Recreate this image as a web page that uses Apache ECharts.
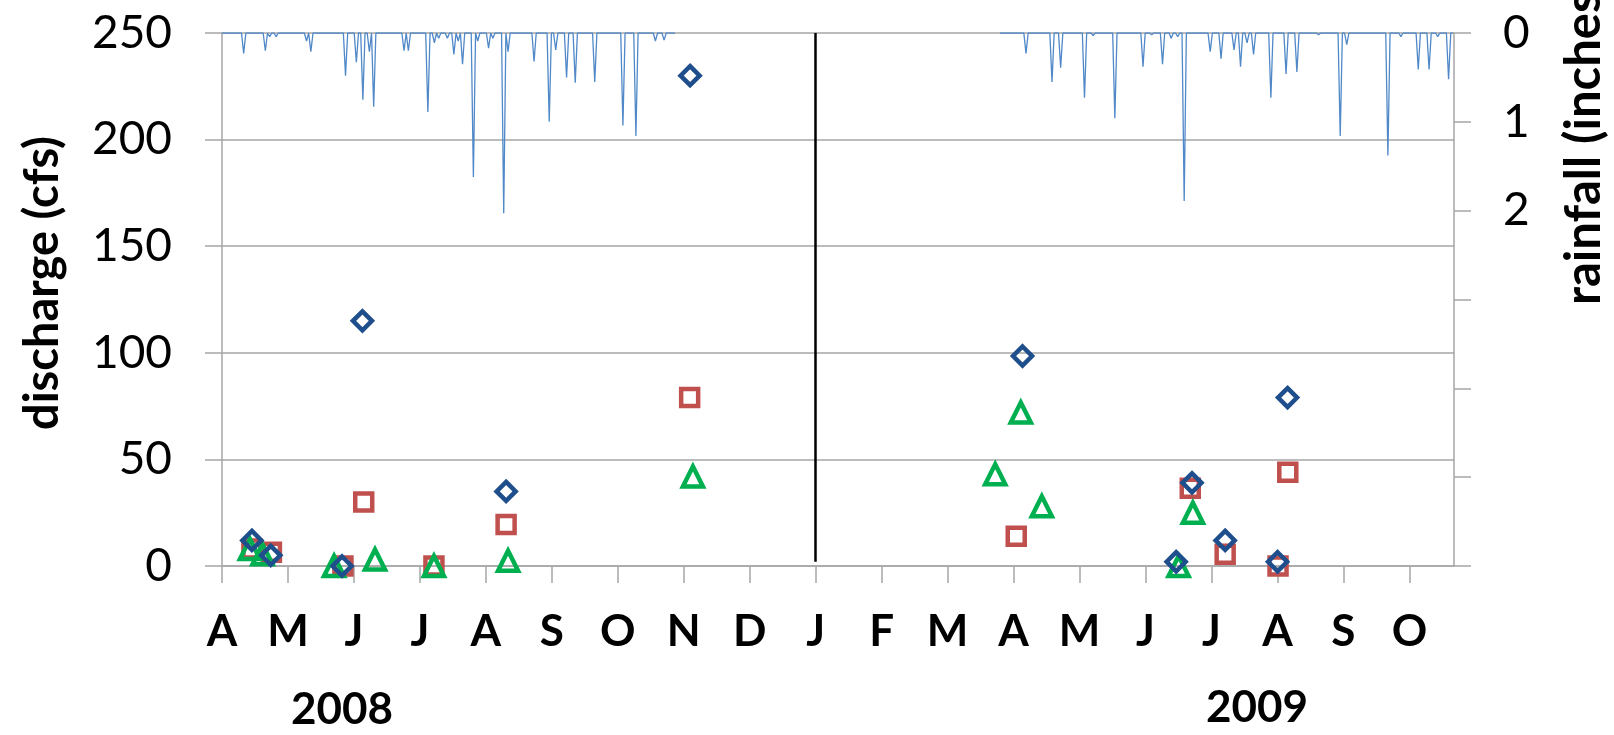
<!DOCTYPE html>
<html>
<head>
<meta charset="utf-8">
<script src="https://cdn.jsdelivr.net/npm/echarts@6/dist/echarts.min.js"></script>
<style>html,body{margin:0;padding:0;background:#fff}#c{width:1614px;height:735px}</style>
</head>
<body>
<div id="c"></div>
<script>
// ---- data ----
const DPM = 30.44; // days per month on the evenly spaced month axis
const monthLabels = ['A','M','J','J','A','S','O','N','D','J','F','M','A','M','J','J','A','S','O'];
const yearLabels = ['2008','2009'];
const xMaxDays = 568.5;            // axis end, days after 1 Apr 2008
const separatorMonth = 9;          // January 2009
const rightTickLabels = ['0','1','2','','','',''];

// daily rainfall (inches), days after 1 Apr 2008; days not listed are 0
const rainPeriod2008 = [0, 209];
const rain2008Day = [10,20,22,25,39,41,57,62,65,68,70,84,86,95,98,100,104,107,109,111,116,118,123,125,130,132,144,151,154,159,163,172,185,191,200,204];
const rain2008In  = [0.23,0.20,0.04,0.04,0.09,0.21,0.48,0.33,0.75,0.21,0.83,0.20,0.20,0.89,0.11,0.06,0.06,0.24,0.09,0.35,1.62,0.09,0.17,0.06,2.03,0.21,0.32,1.00,0.19,0.50,0.56,0.55,1.04,1.16,0.09,0.08];
const rainPeriod2009 = [359, 568];
const rain2009Day = [371,383,387,398,402,412,425,429,434,438,441,444,456,461,467,470,473,476,484,491,496,506,516,519,538,544,552,557,561,566];
const rain2009In  = [0.23,0.55,0.39,0.73,0.03,0.96,0.38,0.02,0.35,0.06,0.04,1.89,0.21,0.29,0.19,0.38,0.11,0.24,0.73,0.46,0.44,0.02,1.16,0.13,1.38,0.04,0.41,0.41,0.04,0.52];

// discharge samples (cfs), days after 1 Apr 2008
const diamondDay = [13.8,22.5,55.4,64.8,131.1,216,369.4,440.3,447.6,462.9,487.1,491.7];
const diamondCfs = [12,5,0,115,35,230,98.5,2,39,12,2,79];
const squareDay  = [13.8,22.8,55.8,65.4,97.8,131.1,215.8,366.5,446.8,462.9,487.3,491.8];
const squareCfs  = [8,6.5,0,30,0,19.5,79,14,36.5,5.5,0,44];
const triangleDay = [12.9,18.7,51.7,70.6,97.8,132,217.3,356.8,368.6,378.3,441.4,448];
const triangleCfs = [8,5.5,0,3,0,2.5,42,43,72,28,0,25];

// ---- build ----
function daily(period, days, vals) {
  const out = [];
  for (let d = period[0]; d <= period[1]; d++) {
    const i = days.indexOf(d);
    out.push([d / DPM, i >= 0 ? vals[i] : 0]);
  }
  return out;
}
function pts(days, vals) { return days.map((d, i) => [d / DPM, vals[i]]); }

const GRAY = '#A6A6A6';
const FONT = 'Lato';
const monthIdx = monthLabels.map((_, i) => i);

const chart = echarts.init(document.getElementById('c'), null, {renderer: 'canvas'});
const rainStyle = {color: '#5088C8', width: 1.3};
const hollow = (c) => ({color: 'rgba(255,255,255,0)', borderColor: c, borderWidth: 4.5, opacity: 1});

chart.setOption({
  animation: false,
  backgroundColor: '#fff',
  grid: {left: 222, right: 160, top: 33, bottom: 169},
  xAxis: {
    type: 'value', min: 0, max: xMaxDays / DPM, interval: 1,
    axisLine: {show: true, lineStyle: {color: GRAY, width: 1.5}},
    axisTick: {show: true, length: 17, customValues: monthIdx, lineStyle: {color: GRAY, width: 1.5}},
    axisLabel: {customValues: monthIdx, formatter: v => monthLabels[Math.round(v)] || '',
      fontSize: 44, fontWeight: 'bold', fontFamily: FONT, color: '#000', margin: 44},
    splitLine: {show: false}
  },
  yAxis: [{
    type: 'value', position: 'left', min: 0, max: 250, interval: 50,
    axisLine: {show: true, lineStyle: {color: GRAY, width: 1.5}},
    axisTick: {show: true, length: 17, lineStyle: {color: GRAY, width: 1.5}},
    axisLabel: {fontSize: 46, fontFamily: FONT, color: '#000', margin: 50},
    splitLine: {show: true, lineStyle: {color: GRAY, width: 1.5}}
  }, {
    type: 'value', position: 'right', inverse: true, min: 0, max: 6, interval: 1,
    axisLine: {show: true, lineStyle: {color: GRAY, width: 1.5}},
    axisTick: {show: true, length: 17, lineStyle: {color: GRAY, width: 1.5}},
    axisLabel: {formatter: v => rightTickLabels[Math.round(v)] || '', fontSize: 46, fontFamily: FONT, color: '#000', margin: 49},
    splitLine: {show: false}
  }],
  graphic: [
    {type: 'text', x: 43, y: 283, rotation: Math.PI / 2,
     style: {text: 'discharge (cfs)', font: 'bold 47px ' + FONT, fill: '#000', align: 'center', verticalAlign: 'middle'}},
    {type: 'text', x: 1584, y: 305, rotation: Math.PI / 2,
     style: {text: 'rainfall (inches)', font: 'bold 49px ' + FONT, fill: '#000', align: 'left', verticalAlign: 'middle'}},
    {type: 'text', x: 342, y: 710,
     style: {text: yearLabels[0], font: 'bold 44px ' + FONT, fill: '#000', align: 'center', verticalAlign: 'middle'}},
    {type: 'text', x: 1257, y: 708,
     style: {text: yearLabels[1], font: 'bold 44px ' + FONT, fill: '#000', align: 'center', verticalAlign: 'middle'}}
  ],
  series: [
    {name: 'rainfall 2008', type: 'line', yAxisIndex: 1, symbol: 'none', lineStyle: rainStyle, z: 1,
     data: daily(rainPeriod2008, rain2008Day, rain2008In)},
    {name: 'rainfall 2009', type: 'line', yAxisIndex: 1, symbol: 'none', lineStyle: rainStyle, z: 1,
     data: daily(rainPeriod2009, rain2009Day, rain2009In)},
    {name: 'square', type: 'scatter', symbol: 'rect', symbolSize: 17, itemStyle: hollow('#C0504D'), z: 3,
     data: pts(squareDay, squareCfs)},
    {name: 'triangle', type: 'scatter', symbol: 'triangle', symbolSize: 20, itemStyle: hollow('#00B050'), z: 4,
     data: pts(triangleDay, triangleCfs)},
    {name: 'diamond', type: 'scatter', symbol: 'diamond', symbolSize: 19, itemStyle: hollow('#1F4E8C'), z: 5,
     data: pts(diamondDay, diamondCfs),
     markLine: {silent: true, symbol: 'none', label: {show: false},
       lineStyle: {color: '#000', width: 2.5, type: 'solid'},
       data: [[{coord: [separatorMonth, 250]}, {coord: [separatorMonth, 2]}]]}}
  ]
});
</script>
</body>
</html>
